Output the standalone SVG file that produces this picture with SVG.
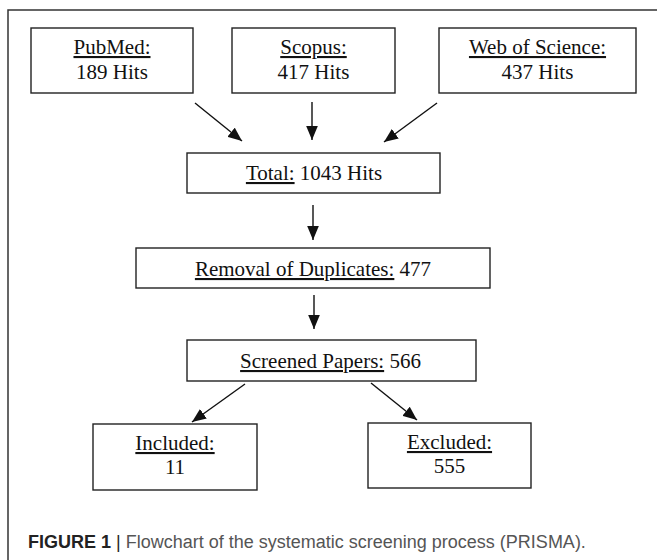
<svg xmlns="http://www.w3.org/2000/svg" width="657" height="560" viewBox="0 0 657 560">
<style>
.box{fill:#fff;stroke:#222;stroke-width:1.4}
.t{font-family:"Liberation Serif","Times New Roman",serif;font-size:21px;fill:#111;text-anchor:middle}
.u{text-decoration:underline}
.c{stroke:#111;stroke-width:1.4;fill:none}
.frame{stroke:#333;stroke-width:1.5;fill:none}
.cap{font-family:"Liberation Sans",Arial,sans-serif;font-size:18px;fill:#555}
</style>
<defs>
<marker id="ah" markerUnits="userSpaceOnUse" markerWidth="14" markerHeight="12" refX="12" refY="5" orient="auto" viewBox="0 0 12 10">
<path d="M0,0 L12,5 L0,10 Z" fill="#111"/>
</marker>
</defs>
<rect width="657" height="560" fill="#fff"/>
<path class="frame" d="M8,560 L8,10 L657,10"/>
<g id="pubmed">
<rect class="box" x="31" y="28" width="162" height="65"/>
<text class="t" x="112" y="54"><tspan class="u">PubMed:</tspan></text>
<text class="t" x="112" y="79">189 Hits</text>
</g>
<g id="scopus">
<rect class="box" x="232" y="28" width="163" height="65"/>
<text class="t" x="313.5" y="54"><tspan class="u">Scopus:</tspan></text>
<text class="t" x="313.5" y="79">417 Hits</text>
</g>
<g id="wos">
<rect class="box" x="439" y="28" width="197" height="65"/>
<text class="t" x="537.5" y="54"><tspan class="u">Web of Science:</tspan></text>
<text class="t" x="537.5" y="79">437 Hits</text>
</g>
<g id="total">
<rect class="box" x="187" y="153" width="253" height="40"/>
<text class="t" x="314" y="180"><tspan class="u">Total:</tspan> 1043 Hits</text>
</g>
<g id="removal">
<rect class="box" x="136" y="248" width="354" height="40"/>
<text class="t" x="313" y="276"><tspan class="u">Removal of Duplicates:</tspan> 477</text>
</g>
<g id="screened">
<rect class="box" x="187" y="340" width="289" height="41"/>
<text class="t" x="330.5" y="368"><tspan class="u">Screened Papers:</tspan> 566</text>
</g>
<g id="included">
<rect class="box" x="93" y="424" width="164" height="66"/>
<text class="t" x="175" y="450"><tspan class="u">Included:</tspan></text>
<text class="t" x="175" y="474">11</text>
</g>
<g id="excluded">
<rect class="box" x="368" y="423" width="163" height="65"/>
<text class="t" x="449.5" y="449"><tspan class="u">Excluded:</tspan></text>
<text class="t" x="449.5" y="473">555</text>
</g>
<g id="connectors">
<line class="c" x1="195" y1="103" x2="242" y2="141" marker-end="url(#ah)"/>
<line class="c" x1="312" y1="102" x2="312" y2="140" marker-end="url(#ah)"/>
<line class="c" x1="437" y1="103" x2="384" y2="142" marker-end="url(#ah)"/>
<line class="c" x1="313" y1="205" x2="313" y2="240" marker-end="url(#ah)"/>
<line class="c" x1="314" y1="295" x2="314" y2="329" marker-end="url(#ah)"/>
<line class="c" x1="245" y1="384" x2="192" y2="422" marker-end="url(#ah)"/>
<line class="c" x1="371" y1="383" x2="417" y2="420" marker-end="url(#ah)"/>
</g>
<text class="cap" x="28" y="548"><tspan font-weight="bold" fill="#222">FIGURE 1</tspan> <tspan fill="#222">|</tspan> Flowchart of the systematic screening process (PRISMA).</text>
</svg>
